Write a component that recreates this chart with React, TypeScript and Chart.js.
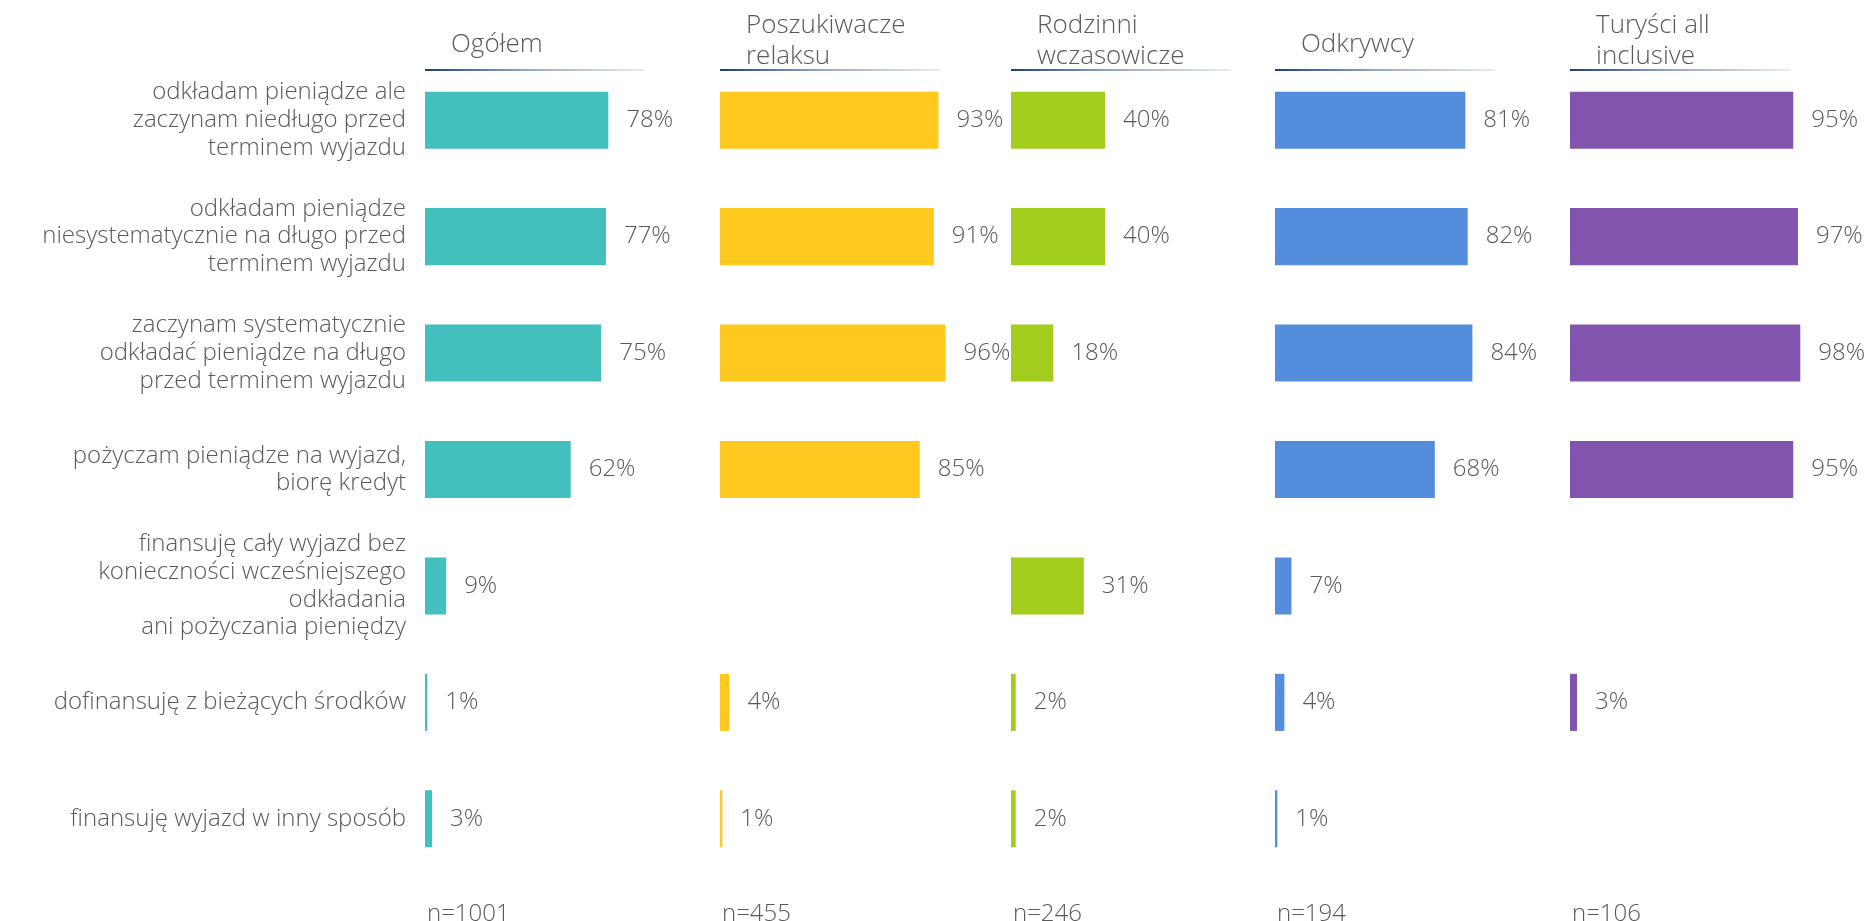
import React, { useEffect, useRef } from "react";
import { Chart, registerables } from "chart.js";

Chart.register(...registerables);

// ---------- DATA ----------
const categories: (string | string[])[] = [
  ["odkładam pieniądze ale", "zaczynam niedługo przed", "terminem wyjazdu"],
  ["odkładam pieniądze", "niesystematycznie na długo przed", "terminem wyjazdu"],
  ["zaczynam systematycznie", "odkładać pieniądze na długo", "przed terminem wyjazdu"],
  ["pożyczam pieniądze na wyjazd,", "biorę kredyt"],
  ["finansuję cały wyjazd bez", "konieczności wcześniejszego", "odkładania", "ani pożyczania pieniędzy"],
  "dofinansuję z bieżących środków",
  "finansuję wyjazd w inny sposób",
];

const groupTitles: string[][] = [
  ["Ogółem"],
  ["Poszukiwacze", "relaksu"],
  ["Rodzinni", "wczasowicze"],
  ["Odkrywcy"],
  ["Turyści all", "inclusive"],
];

const sampleSizes = ["n=1001", "n=455", "n=246", "n=194", "n=106"];

const ogolem: (number | null)[] = [78, 77, 75, 62, 9, 1, 3];
const poszukiwacze: (number | null)[] = [93, 91, 96, 85, null, 4, 1];
const rodzinni: (number | null)[] = [40, 40, 18, null, 31, 2, 2];
const odkrywcy: (number | null)[] = [81, 82, 84, 68, 7, 4, 1];
const turysci: (number | null)[] = [95, 97, 98, 95, null, 3, null];

const seriesValues = [ogolem, poszukiwacze, rodzinni, odkrywcy, turysci];
const seriesColors = ["#43BFBD", "#FFC920", "#A2CD1D", "#558DDD", "#8155AE"];

// ---------- LAYOUT / STYLE ----------
const FONT = "'Open Sans', 'DejaVu Sans', sans-serif";
const WEIGHT = 300;
const TEXT = "#595959";
const W = 1874;
const H = 921;
const panelLeft = [425, 720, 1011, 1275, 1570];
const scaleWidth = 235; // px for 100%
const panelWidth = 300;
const areaTop = 62;
const areaBottom = 877;

function makeChart(canvas: HTMLCanvasElement, k: number) {
  const values = seriesValues[k];
  const color = seriesColors[k];
  const first = k === 0;

  const valueLabels = {
    id: "valueLabels" + k,
    afterDatasetsDraw(chart: any) {
      const ctx = chart.ctx;
      const meta = chart.getDatasetMeta(0);
      ctx.save();
      ctx.font = `${WEIGHT} 24px ${FONT}`;
      ctx.fillStyle = TEXT;
      ctx.textAlign = "left";
      ctx.textBaseline = "middle";
      meta.data.forEach((bar: any, i: number) => {
        const v = values[i];
        if (v == null) return;
        ctx.fillText(`${v}%`, bar.x + 18, bar.y);
      });
      ctx.restore();
    },
  };

  const header = {
    id: "header" + k,
    afterDraw(chart: any) {
      const ctx = chart.ctx;
      const left = chart.chartArea.left;
      ctx.save();
      // title
      const lines = groupTitles[k];
      ctx.font = `${WEIGHT} 26px ${FONT}`;
      ctx.fillStyle = TEXT;
      ctx.textAlign = "left";
      ctx.textBaseline = "middle";
      const lh = 31;
      const cy = lines.length > 1 ? 41 : 45;
      lines.forEach((ln, i) => {
        ctx.fillText(ln, left + 26, cy + (i - (lines.length - 1) / 2) * lh);
      });
      // underline
      const g = ctx.createLinearGradient(left, 0, left + 220, 0);
      g.addColorStop(0, "#1F3F6E");
      g.addColorStop(0.45, "#8FA8C6");
      g.addColorStop(1, "#E9EDF2");
      ctx.fillStyle = g;
      ctx.fillRect(left, 69, 220, 2);
      // sample size
      ctx.font = `${WEIGHT} 24px ${FONT}`;
      ctx.fillStyle = TEXT;
      ctx.fillText(sampleSizes[k], left + 2, 914);
      ctx.restore();
    },
  };

  return new Chart(canvas, {
    type: "bar",
    data: {
      labels: categories,
      datasets: [
        {
          data: values,
          backgroundColor: color,
          borderWidth: 0,
          categoryPercentage: 1,
          barPercentage: 0.49,
        },
      ],
    },
    options: {
      indexAxis: "y",
      responsive: false,
      animation: false,
      layout: {
        padding: { top: areaTop, bottom: H - areaBottom, left: 0, right: panelWidth - scaleWidth },
      },
      plugins: {
        legend: { display: false },
        tooltip: { enabled: false },
        title: { display: false },
      },
      scales: {
        x: { display: false, min: 0, max: 100 },
        y: {
          display: first,
          grid: { display: false, drawTicks: false },
          border: { display: false },
          ticks: {
            color: TEXT,
            font: { family: FONT, size: 24, lineHeight: 1.15, weight: WEIGHT as any },
            padding: 19,
            autoSkip: false,
          },
          afterFit: (scale: any) => {
            if (first) {
              scale.width = panelLeft[0];
              scale.paddingTop = 0;
              scale.paddingBottom = 0;
            }
          },
        },
      },
    },
    plugins: [valueLabels, header],
  });
}

export default function App() {
  const refs = useRef<(HTMLCanvasElement | null)[]>([]);

  useEffect(() => {
    const charts: Chart[] = [];
    refs.current.forEach((c, k) => {
      if (c) charts.push(makeChart(c, k));
    });
    return () => charts.forEach((c) => c.destroy());
  }, []);

  return (
    <div
      style={{
        position: "absolute",
        left: 0,
        top: 0,
        width: W,
        height: H,
        overflow: "hidden",
        background: "#ffffff",
      }}
    >
      {seriesValues.map((_, k) => {
        const left = k === 0 ? 0 : panelLeft[k];
        const width = k === 0 ? panelLeft[0] + panelWidth : panelWidth;
        return (
          <canvas
            key={k}
            ref={(el) => {
              refs.current[k] = el;
            }}
            width={width}
            height={H}
            style={{ position: "absolute", left, top: 0, width, height: H }}
          />
        );
      })}
    </div>
  );
}
